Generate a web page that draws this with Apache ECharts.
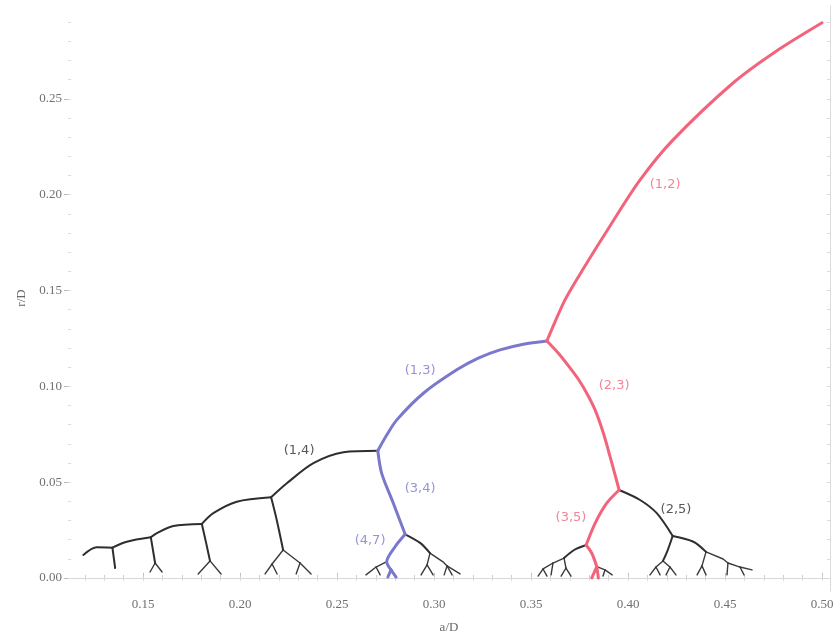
<!DOCTYPE html>
<html><head><meta charset="utf-8">
<script src="https://cdn.jsdelivr.net/npm/echarts@6/dist/echarts.min.js"></script>
<style>html,body{margin:0;padding:0;background:#fff}#c{width:834px;height:635px}</style>
</head><body><div id="c"></div>
<script>
// x tick values and y tick values
const xTicks = [0.15, 0.20, 0.25, 0.30, 0.35, 0.40, 0.45, 0.50];
const yTicks = [0.00, 0.05, 0.10, 0.15, 0.20, 0.25];

// Red path (1,2) -> (2,3) -> (3,5) -> (5,8)
const redBranches = [
  [[0.5,0.2897],[0.4758,0.2745],[0.4541,0.2583],[0.4232,0.2286],[0.4062,0.2077],[0.3907,0.1837],[0.3778,0.1628],[0.3675,0.1451],[0.3582,0.1237]],
  [[0.3582,0.1237],[0.3641,0.1173],[0.3692,0.1108],[0.3744,0.1037],[0.3790,0.0959],[0.3830,0.0877],[0.3873,0.0755],[0.3912,0.0616],[0.3954,0.0459]],
  [[0.3954,0.0459],[0.3890,0.0390],[0.3830,0.0285],[0.3784,0.0172]],
  [[0.3784,0.0172],[0.3813,0.0129],[0.3839,0.0059]],
  [[0.3839,0.0059],[0.3813,0.0]],
  [[0.3839,0.0059],[0.3847,0.0]]
];
// Blue path (1,3) -> (3,4) -> (4,7)
const blueBranches = [
  [[0.3582,0.1237],[0.3460,0.1220],[0.3340,0.1190],[0.3228,0.1147],[0.3117,0.1086],[0.2945,0.0964],[0.2808,0.0825],[0.2756,0.0746],[0.2710,0.0664]],
  [[0.2710,0.0664],[0.2730,0.0546],[0.2790,0.0390],[0.2851,0.0228]],
  [[0.2851,0.0228],[0.2799,0.0163],[0.2756,0.0085],[0.2778,0.0042]],
  [[0.2778,0.0042],[0.2762,0.0005]],
  [[0.2778,0.0042],[0.2804,0.0005]]
];
// Black main branches
const blackBranches = [
  [[0.2710,0.0664],[0.2533,0.0656],[0.2378,0.0599],[0.2241,0.0494],[0.2160,0.0421]],
  [[0.2160,0.0421],[0.1983,0.0398],[0.1862,0.0338],[0.1803,0.0282]],
  [[0.1803,0.0282],[0.1656,0.0271],[0.1569,0.0233],[0.1540,0.0212]],
  [[0.1540,0.0212],[0.1416,0.0189],[0.1342,0.0158]],
  [[0.1342,0.0158],[0.1261,0.0160],[0.1192,0.0120]],
  [[0.2160,0.0421],[0.2189,0.0303],[0.2222,0.0146]],
  [[0.1803,0.0282],[0.1825,0.0183],[0.1845,0.0089]],
  [[0.1540,0.0212],[0.1562,0.0078]],
  [[0.1342,0.0158],[0.1356,0.0052]],
  [[0.3954,0.0459],[0.4062,0.0407],[0.4148,0.0338],[0.4230,0.0219]],
  [[0.4230,0.0219],[0.4337,0.0189],[0.4402,0.0136]],
  [[0.4230,0.0219],[0.4201,0.0136],[0.4180,0.0089]],
  [[0.2851,0.0228],[0.2928,0.0183],[0.2979,0.0130]],
  [[0.3784,0.0172],[0.3722,0.0146],[0.3670,0.0104]]
];
// Black small twigs near the baseline
const blackTwigs = [
  [[0.2222,0.0146],[0.2165,0.0073]],[[0.2165,0.0073],[0.2129,0.0021]],[[0.2165,0.0073],[0.2191,0.0021]],
  [[0.2222,0.0146],[0.2309,0.0078]],[[0.2309,0.0078],[0.2289,0.0021]],[[0.2309,0.0078],[0.2366,0.0021]],
  [[0.1845,0.0089],[0.1784,0.0021]],[[0.1845,0.0089],[0.1902,0.0021]],
  [[0.1562,0.0078],[0.1536,0.0031]],[[0.1562,0.0078],[0.1598,0.0031]],
  [[0.2756,0.0085],[0.2701,0.0057]],[[0.2701,0.0057],[0.2649,0.0016]],[[0.2701,0.0057],[0.2722,0.0016]],
  [[0.2979,0.0130],[0.2964,0.0068]],[[0.2964,0.0068],[0.2933,0.0016]],[[0.2964,0.0068],[0.2995,0.0016]],
  [[0.2979,0.0130],[0.3046,0.0084],[0.3067,0.0063]],[[0.3067,0.0063],[0.3052,0.0016]],[[0.3067,0.0063],[0.3093,0.0016]],[[0.3067,0.0063],[0.3134,0.0021]],
  [[0.3839,0.0059],[0.3881,0.0042]],[[0.3881,0.0042],[0.3871,0.0010]],[[0.3881,0.0042],[0.3918,0.0016]],
  [[0.3670,0.0104],[0.3680,0.0052]],[[0.3680,0.0052],[0.3655,0.0010]],[[0.3680,0.0052],[0.3706,0.0010]],
  [[0.3670,0.0104],[0.3613,0.0078]],[[0.3613,0.0078],[0.3603,0.0016]],[[0.3613,0.0078],[0.3562,0.0047]],
  [[0.3562,0.0047],[0.3536,0.0010]],[[0.3562,0.0047],[0.3582,0.0010]],
  [[0.4180,0.0089],[0.4144,0.0057]],[[0.4144,0.0057],[0.4113,0.0016]],[[0.4144,0.0057],[0.4165,0.0016]],
  [[0.4180,0.0089],[0.4216,0.0057]],[[0.4216,0.0057],[0.4196,0.0016]],[[0.4216,0.0057],[0.4247,0.0016]],
  [[0.4402,0.0136],[0.4381,0.0063]],[[0.4381,0.0063],[0.4356,0.0016]],[[0.4381,0.0063],[0.4402,0.0016]],
  [[0.4402,0.0136],[0.4490,0.0099],[0.4515,0.0078]],[[0.4515,0.0078],[0.4510,0.0016]],[[0.4515,0.0078],[0.4577,0.0057]],
  [[0.4577,0.0057],[0.4598,0.0016]],[[0.4577,0.0057],[0.4639,0.0042]]
];
// Branch labels
const labelTexts = ['(1,2)','(2,3)','(1,3)','(1,4)','(3,4)','(4,7)','(3,5)','(2,5)'];
const labelX = [0.4191,0.3928,0.2928,0.2304,0.2928,0.2670,0.3706,0.4247];
const labelY = [0.2051,0.1002,0.1080,0.0663,0.0465,0.0193,0.0313,0.0355];
const labelGroup = ['red','red','blue','black','blue','blue','red','black'];

const COLORS = {red:'#f2647c', blue:'#7a78cc', black:'#2e2e2e'};

const series = [];
function addBranches(list, color, width, smooth){
  list.forEach(pts => series.push({
    type:'line', data: pts, showSymbol:false, smooth: smooth, silent:true,
    lineStyle:{color: color, width: width, cap:'round', join:'round'}, z:3
  }));
}
addBranches(blackTwigs, '#3a3a3a', 1.4, false);
addBranches(blackBranches, COLORS.black, 2, 0.3);
addBranches(blueBranches, COLORS.blue, 3, 0.3);
addBranches(redBranches, COLORS.red, 3, 0.3);
series.push({
  type:'scatter', symbolSize:0, silent:true, z:5,
  data: labelTexts.map((t,i)=>({name:t, value:[labelX[i],labelY[i]],
    label:{color: COLORS[labelGroup[i]]}})),
  label:{show:true, position:'inside', formatter:p=>p.name,
    fontFamily:'DejaVu Sans', fontSize:13}
});

const minorX = [], minorY = [];
for (let i=12;i<=50;i++) minorX.push(i/100);
for (let i=0;i<=29;i++) minorY.push(i/100);

const XMIN=0.1113, XMAX=0.5041, YMIN=-0.0068, YMAX=0.2990;
const axisText = {color:'#707070', fontFamily:'Liberation Serif', fontSize:13};
const faint = {show:true, lineStyle:{color:'#d4d4d4', type:'dotted', width:1}};

const option = {
  animation:false,
  backgroundColor:'#fff',
  grid:{left:68, right:4, top:5, bottom:44, outerBoundsMode:'none', containLabel:false},
  xAxis:[
    {type:'value', min:XMIN, max:XMAX, position:'bottom',
     name:'a/D', nameLocation:'middle', nameGap:30,
     nameTextStyle:{color:'#666', fontFamily:'Liberation Serif', fontSize:13},
     axisLine:faint, splitLine:{show:false},
     axisTick:{show:true, inside:true, length:5, customValues:xTicks, lineStyle:{color:'#bbb'}},
     axisLabel:{...axisText, margin:7, customValues:xTicks, formatter:v=>v.toFixed(2)}},
    {type:'value', min:XMIN, max:XMAX, position:'bottom', gridIndex:0,
     axisLine:{show:false}, splitLine:{show:false}, axisLabel:{show:false},
     axisTick:{show:true, inside:true, length:3, customValues:minorX, lineStyle:{color:'#ccc'}}},
    {type:'value', min:XMIN, max:XMAX, position:'top',
     axisLine:faint, splitLine:{show:false}, axisLabel:{show:false},
     axisTick:{show:true, inside:true, length:3, customValues:minorX, lineStyle:{color:'#ddd'}}}
  ],
  yAxis:[
    {type:'value', min:YMIN, max:YMAX, position:'left',
     name:'r/D', nameLocation:'middle', nameGap:40,
     nameTextStyle:{color:'#666', fontFamily:'Liberation Serif', fontSize:13},
     axisLine:{show:false}, splitLine:{show:false},
     axisTick:{show:true, inside:false, length:4, customValues:yTicks, lineStyle:{color:'#bbb'}},
     axisLabel:{...axisText, margin:6, customValues:yTicks, formatter:v=>v.toFixed(2)}},
    {type:'value', min:YMIN, max:YMAX, position:'left',
     axisLine:{show:false}, splitLine:{show:false}, axisLabel:{show:false},
     axisTick:{show:true, inside:true, length:3, customValues:minorY, lineStyle:{color:'#ddd'}}},
    {type:'value', min:YMIN, max:YMAX, position:'right',
     axisLine:faint, splitLine:{show:false}, axisLabel:{show:false},
     axisTick:{show:true, inside:true, length:3, customValues:minorY, lineStyle:{color:'#ddd'}}}
  ],
  series: series
};
echarts.init(document.getElementById('c'), null, {renderer:'canvas'}).setOption(option);
</script></body></html>
